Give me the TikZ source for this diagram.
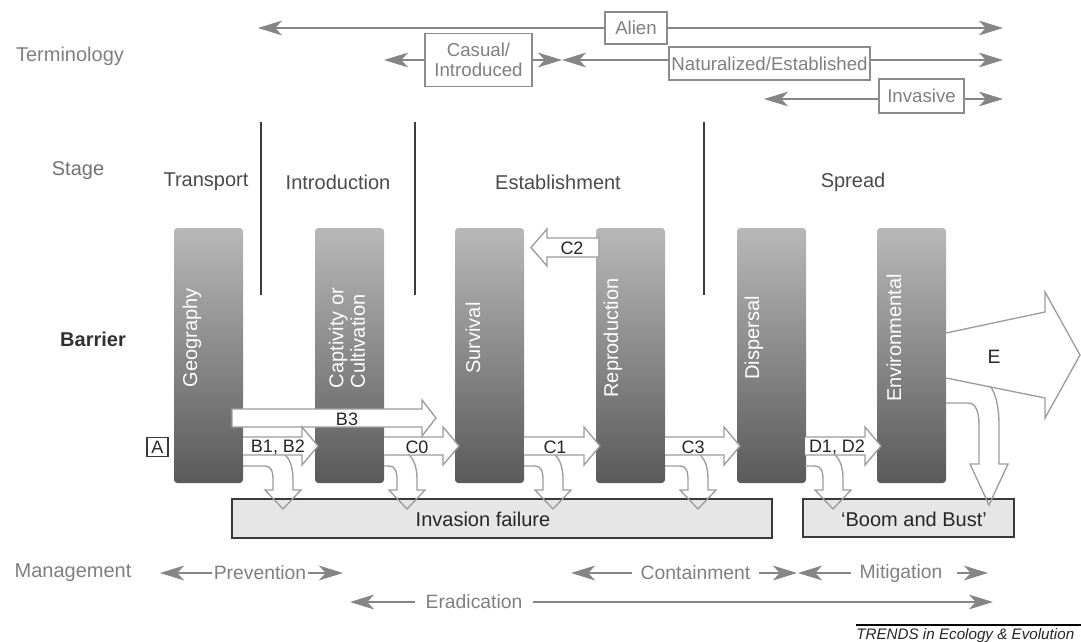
\documentclass[tikz,border=0pt]{standalone}
\usepackage{fontspec}
\setmainfont{Liberation Sans}
\usetikzlibrary{arrows.meta}
\definecolor{termtxt}{HTML}{7F7F7F}
\definecolor{boxgray}{HTML}{8C8C8C}
\definecolor{linegray}{HTML}{858585}
\definecolor{stagetxt}{HTML}{4A4A4A}
\definecolor{vlinecol}{HTML}{3C3C3C}
\definecolor{bartop}{HTML}{B8B8B8}
\definecolor{barbot}{HTML}{5A5A5A}
\definecolor{passcol}{HTML}{9C9C9C}
\definecolor{lbltxt}{HTML}{262626}
\definecolor{failfill}{HTML}{E6E6E6}
\definecolor{failborder}{HTML}{3A3A3A}
\definecolor{barriertxt}{HTML}{303030}
\newcommand{\passarr}[2]{%
  \filldraw[passline] (#1,437) -- ({#2-16},437) -- ({#2-16},427) -- (#2,446) -- ({#2-16},465) -- ({#2-16},455) -- (#1,455);}
\newcommand{\failarr}[2]{%
  \draw[failline] (#1,466) -- ({#2-8},466) .. controls ({#2-2},466) and (#2,471) .. (#2,480) -- (#2,490) -- ({#2-8},490) -- ({#2+10},509) -- ({#2+28},490) -- ({#2+20},490) -- ({#2+20},479) .. controls ({#2+20},468) and ({#2+17},459) .. ({#2+12},455);}
\begin{document}
\begin{tikzpicture}[x=0.75pt,y=-0.75pt,
  >={Stealth[length=18pt,width=11pt,inset=5pt]},
  rowlbl/.style={font=\fontsize{15pt}{18pt}\selectfont, text=termtxt, inner sep=0pt},
  stagelbl/.style={font=\fontsize{15pt}{18pt}\selectfont, text=stagetxt, inner sep=0pt},
  termbox/.style={draw=boxgray, line width=1.1pt, font=\fontsize{14pt}{15pt}\selectfont, text=termtxt, align=center, inner sep=0pt},
  termline/.style={draw=linegray, line width=1.5pt},
  vline/.style={draw=vlinecol, line width=1pt},
  bar/.style={rectangle, rounded corners=2.5pt, top color=bartop, bottom color=barbot, minimum width=51.75pt, minimum height=191.25pt, inner sep=0pt},
  barlbl/.style={rotate=90, text=white, font=\fontsize{15pt}{16pt}\selectfont, inner sep=0pt, align=left},
  passline/.style={draw=passcol, fill=white, line width=1pt, line join=miter},
  failline/.style={draw=passcol, line width=1pt, line join=miter},
  arrlbl/.style={font=\fontsize{13.5pt}{15pt}\selectfont, text=lbltxt, inner sep=0pt},
  failbox/.style={draw=failborder, fill=failfill, line width=1pt, inner sep=0pt},
  failtxt/.style={font=\fontsize{15pt}{18pt}\selectfont, text=lbltxt, inner sep=0pt},
  mgmt/.style={font=\fontsize{14.5pt}{16pt}\selectfont, text=termtxt, inner xsep=6pt, inner ysep=0pt},
]
\useasboundingbox (0,0) rectangle (1081,642);

% ---------- Terminology ----------
\node[rowlbl] (tTerm) at (70,56) {Terminology};
\node[termbox, minimum width=46.5pt, minimum height=24pt] (alien) at (636,28) {Alien};
\coordinate (alienL) at (258,28);
\coordinate (alienR) at (1003,28);
\draw[termline,->] (alien.west) -- (alienL);
\draw[termline,->] (alien.east) -- (alienR);

\node[termbox, minimum width=80.25pt, minimum height=39.75pt] (casual) at (478.5,60) {Casual/\\Introduced};
\coordinate (casL) at (384,60);
\coordinate (casR) at (562,60);
\draw[termline,->] (casual.west) -- (casL);
\draw[termline,->] (casual.east) -- (casR);

\node[termbox, minimum width=150.75pt, minimum height=24.75pt] (nat) at (769.5,63.5) {Naturalized/Established};
\coordinate (natL) at (562,60);
\coordinate (natR) at (1003,60);
\draw[termline,->] (nat.west |- natL) -- (natL);
\draw[termline,->] (nat.east |- natR) -- (natR);

\node[termbox, minimum width=63.75pt, minimum height=25.5pt] (inv) at (921.5,96) {Invasive};
\coordinate (invL) at (764,99);
\coordinate (invR) at (1003,99);
\draw[termline,->] (inv.west |- invL) -- (invL);
\draw[termline,->] (inv.east |- invR) -- (invR);

% ---------- Stage ----------
\node[rowlbl, text=termtxt!90!black] (tStage) at (78,171) {Stage};
\node[stagelbl] (sTrans) at (206,182) {Transport};
\node[stagelbl] (sIntro) at (338,182) {Introduction};
\node[stagelbl] (sEstab) at (558,182) {Establishment};
\node[stagelbl] (sSpread) at (853,182) {Spread};
\coordinate (v1t) at (261,122); \coordinate (v1b) at (261,295);
\coordinate (v2t) at (415,122); \coordinate (v2b) at (415,295);
\coordinate (v3t) at (704,122); \coordinate (v3b) at (704,295);
\draw[vline] (v1t) -- (v1b);
\draw[vline] (v2t) -- (v2b);
\draw[vline] (v3t) -- (v3b);

% ---------- Barrier ----------
\node[rowlbl, font=\fontsize{15pt}{18pt}\selectfont\bfseries, text=barriertxt] (tBarrier) at (93,339) {Barrier};
\node[bar] (geo) at (208.5,355.5) {};
\node[bar] (capt) at (349.5,355.5) {};
\node[bar] (surv) at (489.5,355.5) {};
\node[bar] (repr) at (630.5,355.5) {};
\node[bar] (disp) at (771.5,355.5) {};
\node[bar] (envi) at (911.5,355.5) {};
\node[barlbl] (geoT) at (192,338) {Geography};
\node[barlbl] (captT) at (347,338) {Captivity or\\Cultivation};
\node[barlbl] (survT) at (473,338) {Survival};
\node[barlbl] (reprT) at (613,338) {Reproduction};
\node[barlbl] (dispT) at (754,338) {Dispersal};
\node[barlbl] (enviT) at (894,338) {Environmental};

% B3 arrow
\filldraw[passline] (232,409) -- (422,409) -- (422,400) -- (436,418) -- (422,436) -- (422,427) -- (232,427) -- cycle;
\node[arrlbl] (lB3) at (347,419) {B3};

% passing arrows
\node[draw=failborder, line width=0.8pt, minimum width=15.75pt, minimum height=14.25pt, arrlbl] (A) at (157.5,447) {A};
\passarr{243}{318}
\node[arrlbl] (lB12) at (278,447) {B1, B2};
\passarr{384}{459}
\node[arrlbl] (lC0) at (417,447) {C0};
\passarr{524}{600}
\node[arrlbl] (lC1) at (555,447) {C1};
\passarr{665}{740}
\node[arrlbl] (lC3) at (693,447) {C3};
\passarr{805}{881}
\node[arrlbl] (lD12) at (837,447) {D1, D2};

% C2 arrow
\filldraw[passline] (599,238) -- (547,238) -- (547,229) -- (531,247.5) -- (547,266) -- (547,257) -- (599,257) -- cycle;
\node[arrlbl] (lC2) at (572,248) {C2};

% E arrow
\filldraw[passline] (946,333) -- (1045,312) -- (1045,292) -- (1080,355) -- (1045,418) -- (1045,398) -- (946,378);
\node[arrlbl, font=\fontsize{14.5pt}{16pt}\selectfont] (lE) at (994,357) {E};

% ---------- failure boxes ----------
\node[failbox, minimum width=405pt, minimum height=29.25pt] (fail) at (502,518.5) {};
\node[failtxt] (failT) at (483,519) {Invasion failure};
\node[failbox, minimum width=158.25pt, minimum height=28.5pt] (boom) at (908.5,518) {};
\node[failtxt] (boomT) at (914,519) {‘Boom and Bust’};

% failure arrows
\failarr{243}{273}
\failarr{384}{397}
\failarr{524}{543}
\failarr{665}{688}
\failarr{805}{823}
\draw[failline] (946,403) -- (968,403) .. controls (976,403) and (979,412) .. (979,425) -- (979,464) -- (970,464) -- (989,505) -- (1008,464) -- (999,464) -- (999,425) .. controls (999,405) and (995,392) .. (990,386);

% ---------- Management ----------
\node[rowlbl] (tMgmt) at (73,573) {Management};
\node[mgmt, inner xsep=1pt] (prev) at (260,573) {Prevention};
\coordinate (prevL) at (160,573); \coordinate (prevR) at (343,573);
\draw[termline,->] (prev.west) -- (prevL);
\draw[termline,->] (prev.east) -- (prevR);

\node[mgmt, inner xsep=7.5pt] (erad) at (474,602) {Eradication};
\coordinate (eradL) at (350,602); \coordinate (eradR) at (993,602);
\draw[termline,->] (erad.west) -- (eradL);
\draw[termline,->] (erad.east) -- (eradR);

\node[mgmt] (cont) at (695.5,573) {Containment};
\coordinate (contL) at (571,573); \coordinate (contR) at (797,573);
\draw[termline,->] (cont.west) -- (contL);
\draw[termline,->] (cont.east) -- (contR);

\node[mgmt] (miti) at (901,573) {Mitigation};
\coordinate (mitiL) at (798,573); \coordinate (mitiS) at (957,573); \coordinate (mitiR) at (988,573);
\draw[termline,->] (miti.west) -- (mitiL);
\draw[termline,->] (mitiS) -- (mitiR);

% ---------- footer ----------
\coordinate (fl) at (856,625); \coordinate (fr) at (1081,625);
\draw[black, line width=0.8pt] (fl) -- (fr);
\node[anchor=base west, font=\fontsize{11.4pt}{13pt}\selectfont\itshape, inner sep=0pt, text=black!85] (trends) at (856,639) {TRENDS in Ecology \& Evolution};
\end{tikzpicture}
\end{document}
